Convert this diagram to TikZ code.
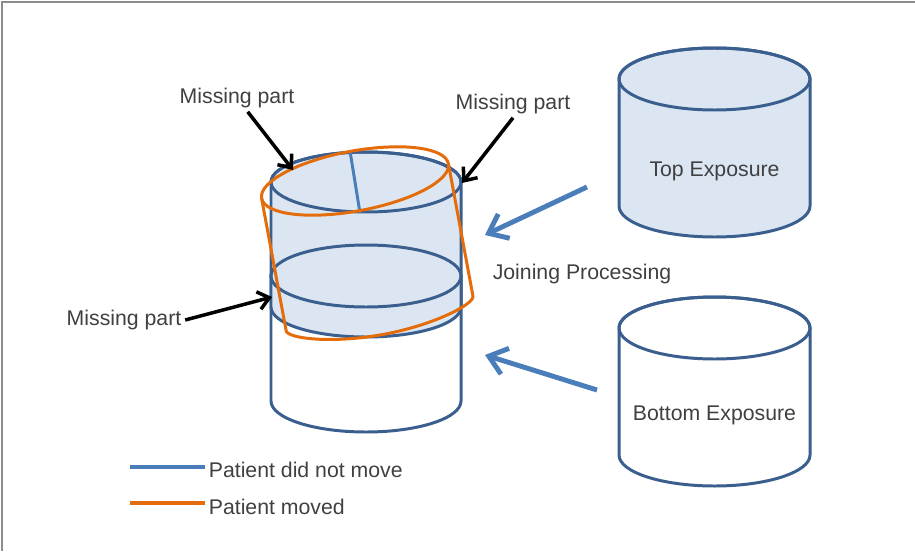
\documentclass[tikz,border=0pt]{standalone}
\usepackage{fontspec}
\setmainfont{Liberation Sans}
\usetikzlibrary{arrows.meta,positioning}
\definecolor{Outline}{HTML}{3A5F8F}
\definecolor{Body}{HTML}{DCE6F2}
\definecolor{Steel}{HTML}{4A7EBB}
\definecolor{Moved}{HTML}{E46C0A}
\definecolor{Ink}{HTML}{404040}
\definecolor{Frame}{HTML}{8C8C8C}
\tikzset{
  cylline/.style={draw=Outline, line width=1.7pt},
  movedline/.style={draw=Moved, line width=1.7pt},
  stillline/.style={draw=Steel, line width=1.7pt},
  legline/.style={line width=2.2pt},
  pointer/.style={-{Straight Barb[length=2.2mm,width=3.6mm]}, line width=2pt, draw=black},
  joinarrow/.style={-{Straight Barb[length=3.4mm,width=5.4mm]}, line width=2.8pt, draw=Steel},
  lbl/.style={font=\fontsize{12.1}{14}\selectfont, text=Ink, inner sep=2pt},
}
\begin{document}
\begin{tikzpicture}[x=0.02cm,y=-0.02cm]
\useasboundingbox (0,0) rectangle (915,551);
\draw[Frame,line width=0.7pt] (2,551) -- (2,2) -- (915,2);

% exposures on the right
\filldraw[cylline,fill=Body] (619,79) -- (619,206) arc[start angle=180,end angle=0,x radius=95.5,y radius=31] -- (810,79) arc[start angle=0,end angle=-180,x radius=95.5,y radius=31] -- cycle;
\draw[cylline] (714.5,79) ellipse[x radius=95.5,y radius=31];
\node[lbl] (topexp) at (714.5,171) {Top Exposure};

\filldraw[cylline,fill=white] (619,328) -- (619,455) arc[start angle=180,end angle=0,x radius=95.5,y radius=31] -- (810,328) arc[start angle=0,end angle=-180,x radius=95.5,y radius=31] -- cycle;
\draw[cylline] (714.5,328) ellipse[x radius=95.5,y radius=31];
\node[lbl] (botexp) at (714.5,415) {Bottom Exposure};

% joined volume
\filldraw[cylline,fill=white] (271,276) -- (271,401) arc[start angle=180,end angle=0,x radius=95,y radius=31] -- (461,276) -- cycle;
\filldraw[cylline,fill=Body] (271,182) -- (271,307) arc[start angle=180,end angle=0,x radius=95,y radius=30] -- (461,182) arc[start angle=0,end angle=-180,x radius=95,y radius=30] -- cycle;
\draw[cylline] (366,182) ellipse[x radius=95,y radius=30];
\draw[cylline] (366,276) ellipse[x radius=95,y radius=31];
\draw[stillline] (350,151) -- (360,213);

% moved patient
\begin{scope}[shift={(355,181)},rotate=10.5]
  \draw[movedline,rounded corners=5pt] (-95,0) -- (-95,126) arc[start angle=180,end angle=0,x radius=95,y radius=30] -- (95,0);
  \draw[movedline] (0,0) ellipse[x radius=95,y radius=30];
\end{scope}

% missing parts
\node[lbl] (missTL) at (237,98) {Missing part};
\node[lbl] (missTR) at (513,104) {Missing part};
\node[lbl] (missL) at (124,320) {Missing part};
\coordinate (tipTL) at (293,170);
\coordinate (tipTR) at (462,183);
\coordinate (tipL) at (272,297);
\draw[pointer] (missTL) -- (tipTL);
\draw[pointer] (missTR.south) -- (tipTR);
\draw[pointer] (missL.east) -- (tipL);

% joining
\node[lbl] (joining) at (582,274) {Joining Processing};
\coordinate (fromTop) at (587,187);
\coordinate (toTop) at (485,235);
\coordinate (fromBot) at (597,390);
\coordinate (toBot) at (485,355);
\draw[joinarrow] (fromTop) -- (toTop);
\draw[joinarrow] (fromBot) -- (toBot);

% legend
\node[lbl,anchor=west] (legStill) at (205,470) {Patient did not move};
\node[lbl,anchor=west] (legMoved) at (205,507) {Patient moved};
\coordinate (legA) at (130,467);
\coordinate (legB) at (130,503);
\draw[legline,Steel] (legA) -- (legA -| legStill.west);
\draw[legline,Moved] (legB) -- (legB -| legMoved.west);
\end{tikzpicture}
\end{document}
